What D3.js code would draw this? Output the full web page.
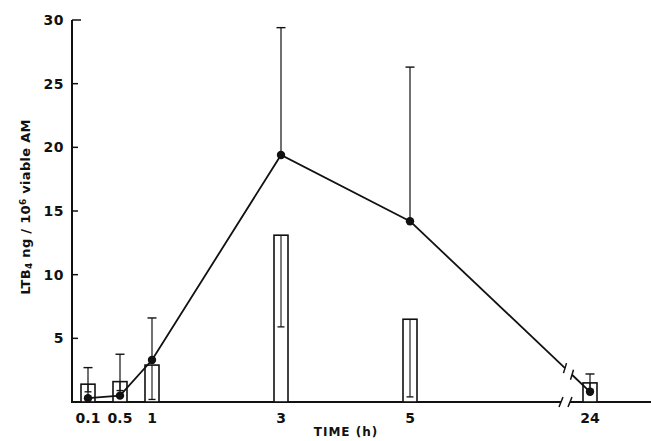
<!DOCTYPE html>
<html><head><meta charset="utf-8">
<script src="https://cdn.jsdelivr.net/npm/d3@7/dist/d3.min.js"></script>
<style>body{margin:0;background:#fff}svg{display:block}text{font-family:"DejaVu Sans",sans-serif;fill:#111}</style>
</head><body><svg id="c" width="651" height="441"></svg>
<script>
// Data
const timeLabels = ["0.1","0.5","1","3","5","24"];
const timeValues = [0.1,0.5,1,3,5,24];
const lineMean   = [0.3,0.5,3.3,19.4,14.2,0.8];
const lineUpper  = [2.7,3.75,6.6,29.4,26.3,2.2];
const barMean    = [1.4,1.6,2.9,13.1,6.5,1.5];
const barLower   = [0.8,0.9,0.2,5.9,0.4,1.0];
const yTicks     = [5,10,15,20,25,30];

const svg = d3.select("#c");
const x = d3.scaleLinear().domain([0.1,0.5,1,5,24,28]).range([88,120,152,410,590,651]);
const y = d3.scaleLinear().domain([0,30]).range([402,20]);
const ink = "#111";

// Y axis
svg.append("line").attr("x1",72).attr("x2",72).attr("y1",y(30)).attr("y2",y(0)+1)
  .attr("stroke",ink).attr("stroke-width",2);
svg.selectAll(".yt").data(yTicks).join("line")
  .attr("x1",72).attr("x2",d=>d===30?81:78).attr("y1",d=>y(d)).attr("y2",d=>y(d))
  .attr("stroke",ink).attr("stroke-width",1.5);
svg.selectAll(".yl").data(yTicks).join("text")
  .attr("x",64).attr("y",d=>y(d)+5).attr("text-anchor","end")
  .attr("font-size",14).attr("font-weight","bold").attr("letter-spacing",0.5)
  .text(d=>d);

// X axis with break
const gapL = x(24)-29, gapR = x(24)-20;
svg.append("line").attr("x1",71).attr("x2",gapL).attr("y1",y(0)).attr("y2",y(0))
  .attr("stroke",ink).attr("stroke-width",2);
svg.append("line").attr("x1",gapR).attr("x2",651).attr("y1",y(0)).attr("y2",y(0))
  .attr("stroke",ink).attr("stroke-width",2);
[gapL,gapR].forEach(g=>{
  svg.append("line").attr("x1",g-2).attr("x2",g+2).attr("y1",y(0)+5).attr("y2",y(0)-5)
    .attr("stroke",ink).attr("stroke-width",1.5);
});
svg.selectAll(".xl").data(timeLabels).join("text")
  .attr("x",(d,i)=>x(timeValues[i])).attr("y",423).attr("text-anchor","middle")
  .attr("font-size",14).attr("font-weight","bold").text(d=>d);
svg.append("text").attr("x",346).attr("y",436).attr("text-anchor","middle")
  .attr("font-size",12).attr("font-weight","bold").attr("letter-spacing",1).text("TIME (h)");

// Y label
const yl = svg.append("text").attr("transform","translate(30,207) rotate(-90)")
  .attr("text-anchor","middle").attr("font-size",13).attr("font-weight","bold").attr("letter-spacing",0.3);
yl.append("tspan").text("LTB");
yl.append("tspan").attr("baseline-shift","-25%").attr("font-size",9).text("4");
yl.append("tspan").text(" ng / 10");
yl.append("tspan").attr("baseline-shift","40%").attr("font-size",9).text("6");
yl.append("tspan").text(" viable AM");

// Bars (open)
const bw = 14;
svg.selectAll(".bar").data(barMean).join("rect")
  .attr("x",(d,i)=>x(timeValues[i])-bw/2).attr("width",bw)
  .attr("y",d=>y(d)).attr("height",d=>y(0)-y(d))
  .attr("fill","#fff").attr("stroke",ink).attr("stroke-width",1.6);
// Bar inner (lower) error bars
svg.selectAll(".bes").data(barMean).join("line")
  .attr("x1",(d,i)=>x(timeValues[i])).attr("x2",(d,i)=>x(timeValues[i]))
  .attr("y1",d=>y(d)).attr("y2",(d,i)=>y(barLower[i]))
  .attr("stroke",ink).attr("stroke-width",1.1);
svg.selectAll(".bec").data(barLower).join("line")
  .attr("x1",(d,i)=>x(timeValues[i])-3.5).attr("x2",(d,i)=>x(timeValues[i])+3.5)
  .attr("y1",d=>y(d)).attr("y2",d=>y(d))
  .attr("stroke",ink).attr("stroke-width",1.3);

// Line error bars (upper)
svg.selectAll(".les").data(lineMean).join("line")
  .attr("x1",(d,i)=>x(timeValues[i])).attr("x2",(d,i)=>x(timeValues[i]))
  .attr("y1",d=>y(d)).attr("y2",(d,i)=>y(lineUpper[i]))
  .attr("stroke",ink).attr("stroke-width",1.2);
svg.selectAll(".lec").data(lineUpper).join("line")
  .attr("x1",(d,i)=>x(timeValues[i])-4.5).attr("x2",(d,i)=>x(timeValues[i])+4.5)
  .attr("y1",d=>y(d)).attr("y2",d=>y(d))
  .attr("stroke",ink).attr("stroke-width",1.4);

// Line with break between 5 and 24
const pts = timeValues.map((t,i)=>[x(t),y(lineMean[i])]);
svg.append("path").attr("d",d3.line()(pts.slice(0,5)))
  .attr("fill","none").attr("stroke",ink).attr("stroke-width",1.8);
const p5 = pts[4], p24 = pts[5];
const at = xx => [xx, p5[1]+(p24[1]-p5[1])*(xx-p5[0])/(p24[0]-p5[0])];
const a = at(gapL+4), b = at(gapR+2);
svg.append("path").attr("d",d3.line()([p5,a])).attr("fill","none").attr("stroke",ink).attr("stroke-width",1.8);
svg.append("path").attr("d",d3.line()([b,p24])).attr("fill","none").attr("stroke",ink).attr("stroke-width",1.8);
[a,b].forEach(p=>{
  svg.append("line").attr("x1",p[0]-1.5).attr("x2",p[0]+1.5).attr("y1",p[1]+5).attr("y2",p[1]-5)
    .attr("stroke",ink).attr("stroke-width",1.5);
});
svg.selectAll(".dot").data(pts).join("circle")
  .attr("cx",d=>d[0]).attr("cy",d=>d[1]).attr("r",4.2).attr("fill",ink);
</script></body></html>
